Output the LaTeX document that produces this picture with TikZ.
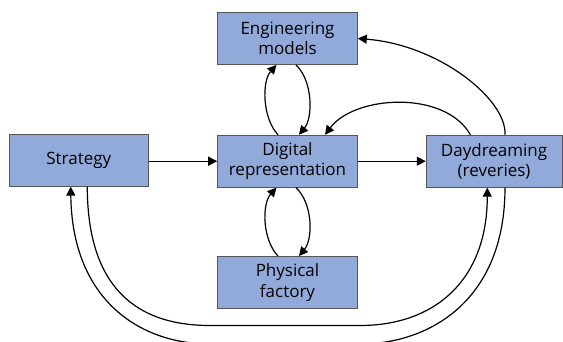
\documentclass[tikz,border=0pt]{standalone}
\usepackage{fontspec}
\setmainfont{Open Sans}
\usetikzlibrary{arrows.meta}
\definecolor{boxfill}{RGB}{146,170,218}
\definecolor{boxline}{RGB}{85,85,90}
\begin{document}
\begin{tikzpicture}[x=1pt,y=-1pt,
  box/.style={draw=boxline,line width=0.9pt,fill=boxfill,minimum width=139.7pt,minimum height=52pt,
    inner sep=0pt,align=center,font=\fontsize{17pt}{20.5pt}\selectfont},
  conn/.style={draw=black,line width=1.2pt,-{Triangle[length=9pt,width=9pt]}}]
\useasboundingbox (0,0) rectangle (563,342);
\node[box,minimum width=139.6pt] (str) at (78.8,160.2) {Strategy};
\node[box] (eng) at (287.5,38.5) {Engineering\\models};
\node[box] (dig) at (287.5,161.2) {Digital\\representation};
\node[box,minimum width=135.8pt] (day) at (494.1,161.2) {Daydreaming\\(reveries)};
\node[box] (phy) at (287.5,282.5) {Physical\\factory};
% horizontal
\draw[conn] (str.east |- dig.west) -- (dig.west);
\draw[conn] (dig.east) -- (day.west);
% engineering loop
\draw[conn] ([xshift=-9.5pt]dig.north) .. controls +(-16,-17) and +(-14.5,16) .. ([xshift=-11pt]eng.south);
\draw[conn] ([xshift=8.5pt]eng.south) .. controls +(17,16) and +(14,-17) .. ([xshift=11.5pt]dig.north);
% physical loop
\draw[conn] ([xshift=-9.5pt]phy.north) .. controls +(-16,-17) and +(-14.5,16) .. ([xshift=-11pt]dig.south);
\draw[conn] ([xshift=8.5pt]dig.south) .. controls +(17,16) and +(14,-17) .. ([xshift=11.5pt]phy.north);
% daydreaming -> digital
\draw[conn] ([xshift=-23.7pt]day.north) .. controls (445,90) and (355,95) .. ([xshift=37.5pt]dig.north);
% daydreaming -> engineering
\draw[conn] ([xshift=10.9pt]day.north) .. controls (507,100) and (440,45) .. (eng.east);
% strategy -> daydreaming (inner)
\coordinate (ia) at (210,325.5);
\coordinate (ib) at (360,325.5);
\draw[conn] ([xshift=8.5pt]str.south) .. controls (87.3,275) and (125,325.5) .. (ia) -- (ib)
   .. controls (435,325.5) and (487.3,280) .. ([xshift=-6.8pt]day.south);
% daydreaming -> strategy (outer)
\coordinate (oa) at (360,344);
\coordinate (ob) at (210,344);
\draw[conn] ([xshift=10.9pt]day.south) .. controls (505,300) and (430,344) .. (oa) -- (ob)
   .. controls (140,344) and (72,300) .. ([xshift=-8.1pt]str.south);
\end{tikzpicture}
\end{document}
